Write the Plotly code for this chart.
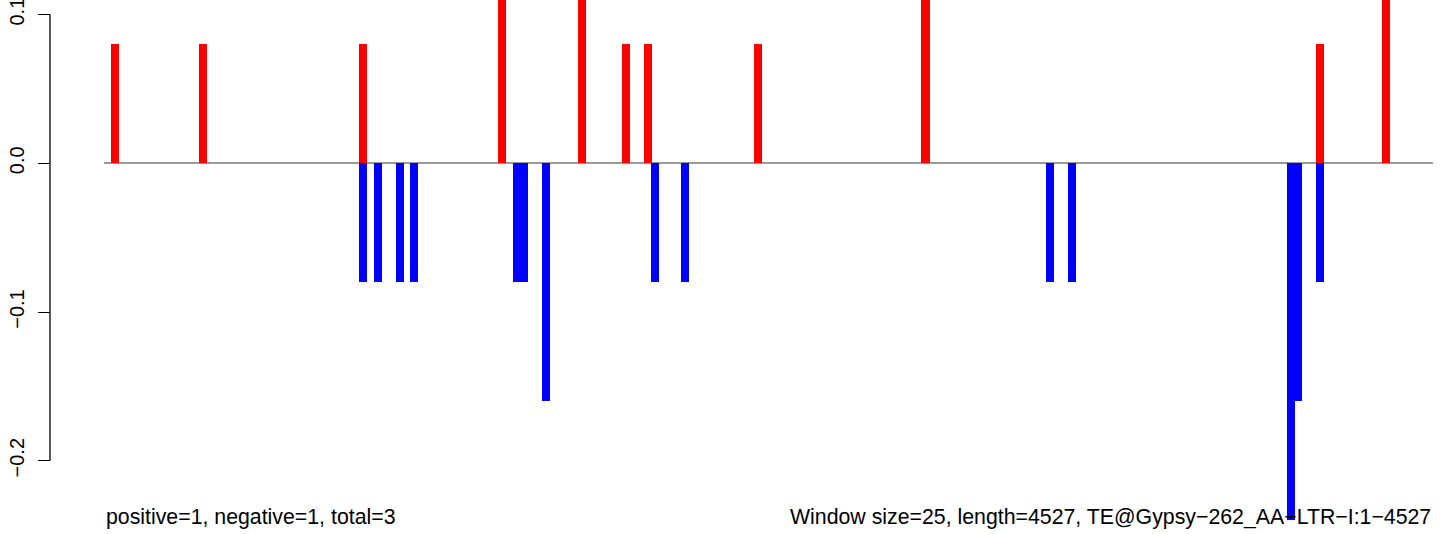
import plotly.graph_objects as go

# window indices (window size 25 bp) and scores
pos_windows = [1, 13, 35, 54, 65, 71, 74, 89, 112, 166, 175]
pos_values = [0.08, 0.08, 0.08, 0.16, 0.16, 0.08, 0.08, 0.08, 0.16, 0.08, 0.16]
neg_windows = [35, 37, 40, 42, 56, 57, 60, 75, 79, 129, 132, 162, 163, 166]
neg_values = [-0.08, -0.08, -0.08, -0.08, -0.08, -0.08, -0.16, -0.08, -0.08,
              -0.08, -0.08, -0.24, -0.16, -0.08]
n_windows = 182
tick_vals = [-0.2, -0.1, 0.0, 0.1]
tick_text = ["\u22120.2", "\u22120.1", "0.0", "0.1"]
left_text = "positive=1, negative=1, total=3"
right_text = "Window size=25, length=4527, TE@Gypsy\u2212262_AA\u2212LTR\u2212I:1\u22124527"

W, H = 1444, 534
ml, mr = 50, 11
plot_left, plot_right = 104, 1432.7
dom0 = (plot_left - ml) / (W - ml - mr)

fig = go.Figure()
fig.add_trace(go.Bar(x=[w + 0.5 for w in pos_windows], y=pos_values, width=1.1,
                     marker=dict(color="#FF0000", line=dict(width=0)), showlegend=False))
fig.add_trace(go.Bar(x=[w + 0.5 for w in neg_windows], y=neg_values, width=1.1,
                     marker=dict(color="#0000FF", line=dict(width=0)), showlegend=False))

fig.update_layout(
    width=W, height=H,
    margin=dict(l=ml, r=mr, t=0, b=0, autoexpand=False),
    paper_bgcolor="white", plot_bgcolor="white",
    barmode="overlay", bargap=0,
    font=dict(family="Liberation Sans, Arial, Helvetica, sans-serif", color="black"),
    xaxis=dict(domain=[dom0, 1], range=[0, n_windows], showgrid=False, zeroline=False,
               showticklabels=False, showline=False, ticks="", automargin=False),
    yaxis=dict(range=[-0.24929, 0.10982], anchor="free", position=0, automargin=False,
               tickvals=tick_vals, ticktext=tick_text, tickangle=-90,
               ticks="outside", ticklen=12, tickwidth=1.3, tickcolor="black",
               tickfont=dict(size=20, color="black"), ticklabelstandoff=6,
               ticklabeloverflow="allow",
               showgrid=False, showline=False,
               zeroline=True, zerolinecolor="#9a9a9a", zerolinewidth=1.5),
    shapes=[dict(type="line", xref="paper", yref="y", x0=0, x1=0,
                 y0=min(tick_vals), y1=max(tick_vals),
                 line=dict(color="black", width=1.3))],
    annotations=[
        dict(text=left_text, xref="x", yref="paper", x=0, y=0, xanchor="left",
             yanchor="bottom", yshift=3, showarrow=False, font=dict(size=21.3)),
        dict(text=right_text, xref="x", yref="paper", x=n_windows, y=0, xanchor="right",
             yanchor="bottom", yshift=3, showarrow=False, font=dict(size=21.3)),
    ],
)
fig.write_html("out.html", config={"displayModeBar": False},
               post_script="document.body.style.margin='0';document.body.style.overflow='hidden';")
